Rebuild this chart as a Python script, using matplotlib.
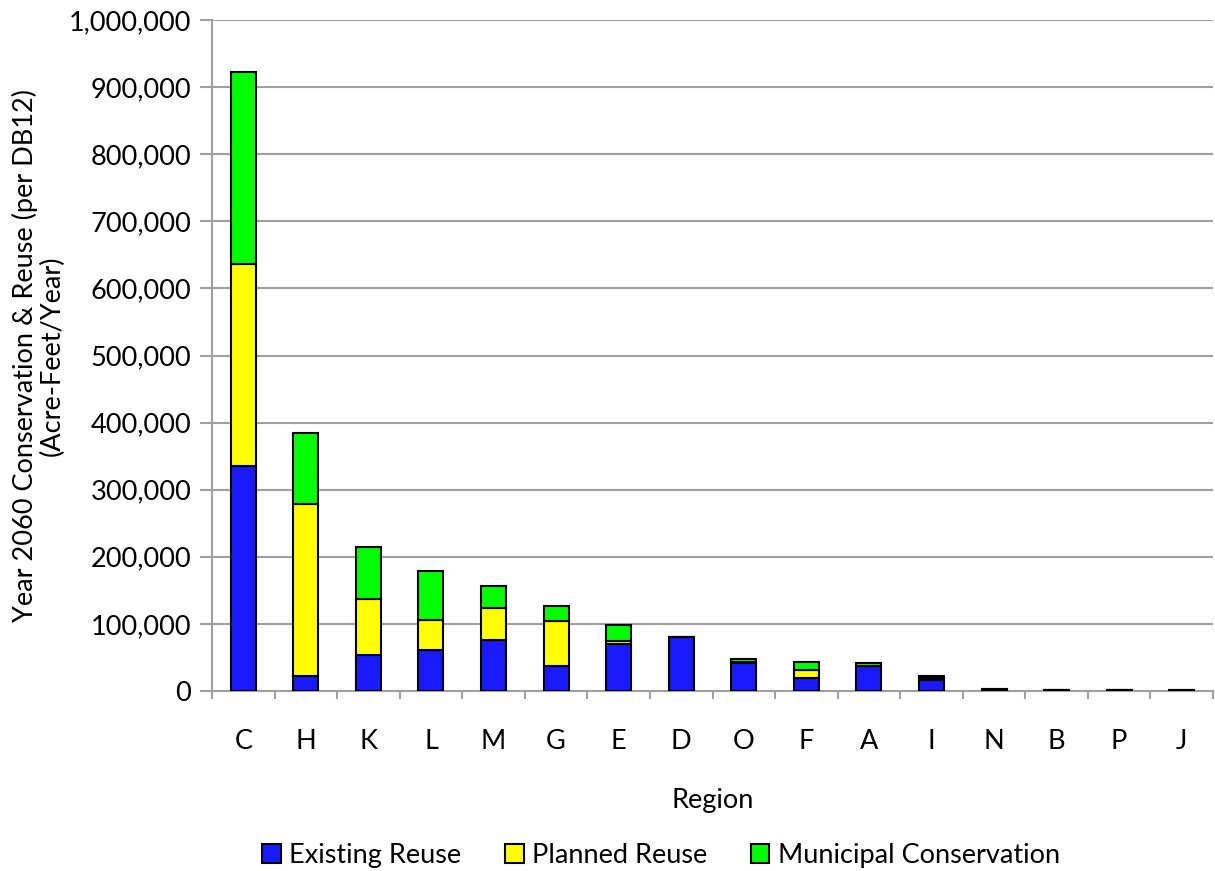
import matplotlib
matplotlib.use("Agg")
import matplotlib.pyplot as plt
from matplotlib.ticker import FuncFormatter, MultipleLocator
import numpy as np

regions = ["C", "H", "K", "L", "M", "G", "E", "D", "O", "F", "A", "I", "N", "B", "P", "J"]
existing_reuse = [336000, 22000, 54000, 61000, 76000, 37000, 70000, 80000, 41000, 19000, 37000, 16000, 1500, 1000, 800, 500]
planned_reuse = [300000, 257000, 83000, 45000, 47000, 68000, 5000, 0, 2000, 13000, 1000, 3000, 800, 500, 500, 300]
municipal_conservation = [286000, 106000, 77000, 73000, 34000, 22000, 23000, 0, 4000, 11000, 4000, 3000, 700, 500, 400, 300]

series_names = ["Existing Reuse", "Planned Reuse", "Municipal Conservation"]
colors = ["#1a1aff", "#ffff00", "#00ff00"]

plt.rcParams["font.family"] = ["Lato", "DejaVu Sans"]
FS = 19.5

fig = plt.figure(figsize=(12.15, 8.71), dpi=100)
ax = fig.add_axes([212 / 1215, 1 - 691 / 871, 1001 / 1215, 671 / 871])

x = np.arange(len(regions))
bottom = np.zeros(len(regions))
for vals, name, col in zip([existing_reuse, planned_reuse, municipal_conservation], series_names, colors):
    v = np.array(vals, dtype=float)
    ax.bar(x, v, width=0.4, bottom=bottom, color=col, edgecolor="black",
           linewidth=1.5, label=name, zorder=3)
    bottom += v

ax.set_xlim(-0.5, len(regions) - 0.5)
ax.set_ylim(0, 1000000)
ax.yaxis.set_major_locator(MultipleLocator(100000))
ax.yaxis.set_major_formatter(FuncFormatter(lambda v, p: f"{int(v):,}"))
ax.grid(axis="y", color="#a0a0a0", linewidth=1.5, zorder=0)

ax.set_xticks(x)
ax.set_xticklabels(regions)
ax.set_xticks(np.arange(-0.5, len(regions) + 0.5, 1), minor=True)
ax.tick_params(axis="x", which="major", length=0, pad=27, labelsize=FS)
ax.tick_params(axis="x", which="minor", length=6, width=1.5, color="#a0a0a0")
ax.tick_params(axis="y", length=9, width=1.5, color="#a0a0a0", labelsize=FS, pad=6)

for s in ["top", "right"]:
    ax.spines[s].set_visible(False)
for s in ["left", "bottom"]:
    ax.spines[s].set_color("#a0a0a0")
    ax.spines[s].set_linewidth(1.5)

ax.set_xlabel("Region", fontsize=FS, labelpad=25)
ax.set_ylabel("Year 2060 Conservation & Reuse (per DB12)\n(Acre-Feet/Year)", fontsize=FS,
              labelpad=3, linespacing=1.1)

leg = fig.legend(*ax.get_legend_handles_labels(), loc="center",
                 bbox_to_anchor=(661 / 1215, 1 - 855 / 871), ncol=3, frameon=False,
                 fontsize=FS, handlelength=0.7, handleheight=0.7, handletextpad=0.3,
                 columnspacing=1.6, borderaxespad=0, borderpad=0)

fig.savefig("out.png", dpi=100)
